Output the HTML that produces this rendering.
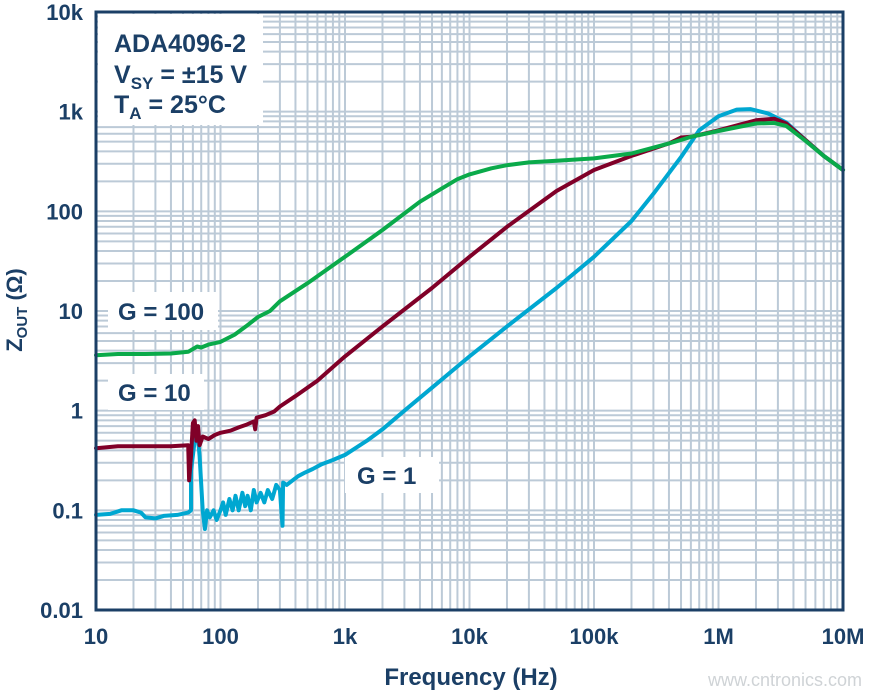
<!DOCTYPE html>
<html><head><meta charset="utf-8"><style>
body{margin:0;background:#fff;}
svg{display:block;font-family:"Liberation Sans",Arial,sans-serif;font-weight:bold;}
</style></head><body>
<svg id="s" width="873" height="694" xmlns="http://www.w3.org/2000/svg"></svg>
<script>
const L=96,R=843,T=12,B=610;
const X=f=>L+(Math.log10(f)-1)*(R-L)/6;
const Y=z=>B-(Math.log10(z)+2)*(B-T)/6;
let s='';
const gc='#bccad7';
for(let d=1;d<7;d++)for(let m=1;m<10;m++){const f=Math.pow(10,d)*m;if(f<=10)continue;const x=X(f);if(x>=R)continue;s+=`<line x1="${x}" y1="${T}" x2="${x}" y2="${B}" stroke="${gc}" stroke-width="2"/>`;}
for(let d=-2;d<4;d++)for(let m=1;m<10;m++){const z=Math.pow(10,d)*m;if(Math.abs(z-0.01)<1e-9)continue;const y=Y(z);if(y<=T)continue;s+=`<line x1="${L}" y1="${y}" x2="${R}" y2="${y}" stroke="${gc}" stroke-width="2"/>`;}
s+=`<rect x="98" y="14" width="165" height="111" fill="#fff"/>`;
s+=`<rect x="108" y="292" width="110" height="38" fill="#fff"/>`;
s+=`<rect x="108" y="374" width="96" height="36" fill="#fff"/>`;
s+=`<rect x="345" y="457" width="94" height="36" fill="#fff"/>`;
function path(pts,c){return `<path d="${pts.map((p,i)=>(i?'L':'M')+X(p[0]).toFixed(1)+' '+Y(p[1]).toFixed(1)).join(' ')}" fill="none" stroke="${c}" stroke-width="4" stroke-linejoin="round" stroke-linecap="round"/>`;}
const blue=[[10,0.09],[13,0.092],[16,0.1],[20,0.1],[23,0.095],[25,0.085],[30,0.083],[35,0.088],[45,0.09],[55,0.095],[58,0.1],[58,0.25],[62,0.5],[65,0.65],[68,0.35],[72,0.1],[75,0.065],[78,0.1],[82,0.085],[88,0.1],[93,0.08],[100,0.1],[105,0.12],[110,0.09],[118,0.13],[125,0.1],[132,0.14],[140,0.1],[150,0.15],[158,0.11],[165,0.14],[175,0.1],[185,0.16],[195,0.12],[210,0.15],[225,0.12],[240,0.16],[260,0.13],[280,0.18],[300,0.16],[315,0.07],[318,0.19],[340,0.18],[380,0.2],[420,0.22],[480,0.24],[550,0.26],[650,0.29],[800,0.32],[1000,0.36],[1500,0.5],[2000,0.65],[3000,1],[5000,1.7],[10000,3.5],[20000,7],[50000,17],[100000,35],[200000,80],[300000,150],[500000,350],[700000,650],[1000000,900],[1400000,1050],[1800000,1060],[2500000,960],[3500000,780],[5000000,520],[7000000,360],[10000000,260]];
const red=[[10,0.42],[15,0.44],[20,0.44],[30,0.44],[40,0.44],[55,0.45],[56,0.2],[58,0.35],[60,0.75],[62,0.8],[64,0.5],[66,0.7],[68,0.45],[72,0.55],[80,0.52],[90,0.57],[100,0.6],[120,0.63],[140,0.68],[160,0.72],[185,0.78],[190,0.65],[195,0.85],[230,0.9],[270,0.98],[300,1.1],[400,1.4],[600,2],[1000,3.5],[2000,7],[5000,17],[10000,35],[20000,70],[50000,160],[100000,260],[200000,360],[400000,480],[500000,550],[600000,560],[1000000,650],[2000000,820],[2800000,850],[3500000,760],[5000000,520],[7000000,360],[10000000,260]];
const green=[[10,3.6],[15,3.7],[25,3.7],[40,3.75],[55,3.9],[65,4.4],[70,4.3],[80,4.6],[100,4.9],[130,5.8],[160,7],[200,8.7],[250,10],[300,12.5],[500,19],[1000,35],[2000,65],[4000,125],[6000,170],[8000,210],[10000,235],[15000,270],[20000,290],[30000,310],[50000,322],[100000,340],[200000,380],[400000,480],[500000,520],[600000,560],[1000000,640],[2000000,760],[2800000,770],[3500000,720],[5000000,510],[7000000,360],[10000000,260]];
s+=path(blue,'#00a7d1')+path(red,'#800028')+path(green,'#0aaa4a');
s+=`<rect x="${L}" y="${T}" width="${R-L}" height="${B-T}" fill="none" stroke="#1b3f66" stroke-width="3"/>`;
const tc='#1b3f66';
[['10k',1e4],['1k',1e3],['100',100],['10',10],['1',1],['0.1',0.1],['0.01',0.01]].forEach(a=>{s+=`<text x="83" y="${Y(a[1])+8}" text-anchor="end" font-size="22" fill="${tc}">${a[0]}</text>`;});
[['10',10],['100',100],['1k',1e3],['10k',1e4],['100k',1e5],['1M',1e6],['10M',1e7]].forEach(a=>{s+=`<text x="${X(a[1])}" y="644" text-anchor="middle" font-size="22" fill="${tc}">${a[0]}</text>`;});
s+=`<text x="471" y="685" text-anchor="middle" font-size="24" fill="${tc}">Frequency (Hz)</text>`;
s+=`<text transform="translate(22,310) rotate(-90)" text-anchor="middle" font-size="22" fill="${tc}">Z<tspan font-size="15" dy="5">OUT</tspan><tspan dy="-5"> (Ω)</tspan></text>`;
s+=`<text x="114" y="52" font-size="25" fill="${tc}">ADA4096-2</text>`;
s+=`<text x="114" y="83" font-size="25" fill="${tc}">V<tspan font-size="17" dy="6">SY</tspan><tspan dy="-6"> = ±15 V</tspan></text>`;
s+=`<text x="114" y="113" font-size="25" fill="${tc}">T<tspan font-size="17" dy="6">A</tspan><tspan dy="-6"> = 25°C</tspan></text>`;
s+=`<text x="118" y="320" font-size="24" fill="${tc}">G = 100</text>`;
s+=`<text x="118" y="401" font-size="24" fill="${tc}">G = 10</text>`;
s+=`<text x="357" y="484" font-size="24" fill="${tc}">G = 1</text>`;
s+=`<text x="862" y="686" text-anchor="end" font-size="18" font-weight="normal" fill="#cfd3d6">www.cntronics.com</text>`;
document.getElementById('s').innerHTML=s;
</script>
</body></html>
